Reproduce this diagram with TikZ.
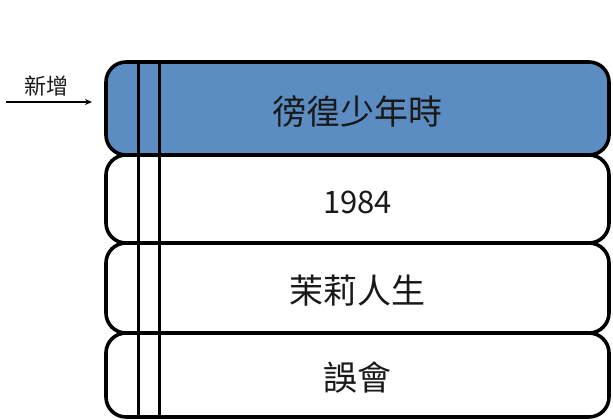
\documentclass[tikz,border=0pt]{standalone}
\usepackage{fontspec}
\setmainfont{Noto Sans CJK TC}
\usetikzlibrary{arrows.meta,calc}
\definecolor{boxblue}{RGB}{91,141,194}
\definecolor{txt}{RGB}{25,25,25}
\newcommand{\lowered}[1]{\raisebox{-3bp}[\height][\depth]{#1}}
\tikzset{
  stackbox/.style={draw=black, line width=3.6bp, rounded corners=20bp, minimum width=503bp, inner sep=0pt, text=txt, font=\fontsize{34bp}{38bp}\selectfont},
  spine/.style={draw=black, line width=3bp},
  newarrow/.style={draw=black, line width=1.5bp, -{Stealth[length=7bp,width=6bp]}},
}
\begin{document}
\begin{tikzpicture}[x=1bp,y=-1bp]
\useasboundingbox (0,0) rectangle (613,419);
\node[stackbox, fill=boxblue, minimum height=93bp] (b1) at (357.5,108.5) {\lowered{徬徨少年時}};
\node[stackbox, fill=white, minimum height=88bp, font=\fontsize{31bp}{36bp}\selectfont] (b2) at (357.5,199) {\lowered{1984}};
\node[stackbox, fill=white, minimum height=90bp] (b3) at (357.5,288) {\lowered{茉莉人生}};
\node[stackbox, fill=white, minimum height=84bp] (b4) at (357.5,375) {\lowered{誤會}};
\draw[spine] ($(b1.north west)+(34,0)$) -- ($(b4.south west)+(34,0)$);
\draw[spine] ($(b1.north west)+(55,0)$) -- ($(b4.south west)+(55,0)$);
\coordinate (as) at (6,102);
\coordinate (ae) at (92,102);
\draw[newarrow] (as) -- (ae);
\node[font=\fontsize{22bp}{26bp}\selectfont, text=txt] (lbl) at (46,86) {新增};
\end{tikzpicture}
\end{document}
